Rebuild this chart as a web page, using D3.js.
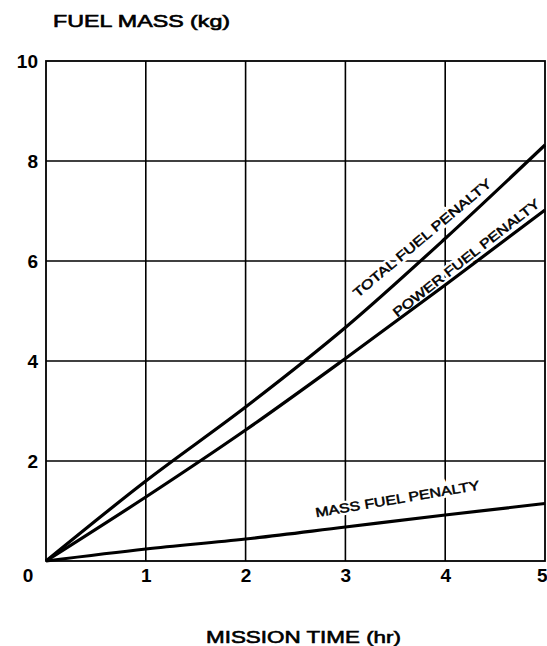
<!DOCTYPE html>
<html>
<head>
<meta charset="utf-8">
<script src="https://cdn.jsdelivr.net/npm/d3@7"></script>
<style>
html,body{margin:0;padding:0;background:#fff;}
svg{display:block;font-family:"Liberation Sans",Arial,Helvetica,sans-serif;}
</style>
</head>
<body>
<svg id="chart" width="547" height="646"></svg>
<script>
// ---- data ----
const missionTime = [0, 1, 2, 3, 4, 5];
const totalFuelPenalty = [0, 1.6, 3.08, 4.67, 6.45, 8.32];
const powerFuelPenalty = [0, 1.28, 2.62, 4.05, 5.52, 7.02];
const massFuelPenalty  = [0, 0.24, 0.44, 0.68, 0.92, 1.15];
const xTicks = [0, 1, 2, 3, 4, 5];
const yTicks = [0, 2, 4, 6, 8, 10];
const xTitle = "MISSION TIME (hr)";
const yTitle = "FUEL MASS (kg)";
const seriesNames = ["TOTAL FUEL PENALTY", "POWER FUEL PENALTY", "MASS FUEL PENALTY"];

const svg = d3.select("#chart");
const x = d3.scaleLinear().domain([0, 5]).range([46, 545]);
const y = d3.scaleLinear().domain([0, 10]).range([561, 61]);

// grid
const g = svg.append("g");
g.selectAll("line.vg").data(xTicks.slice(1, -1)).join("line")
  .attr("x1", d => x(d)).attr("x2", d => x(d))
  .attr("y1", y(0)).attr("y2", y(10))
  .attr("stroke", "#000").attr("stroke-width", 1.6);
g.selectAll("line.hg").data(yTicks.slice(1, -1)).join("line")
  .attr("y1", d => y(d)).attr("y2", d => y(d))
  .attr("x1", x(0)).attr("x2", x(5))
  .attr("stroke", "#000").attr("stroke-width", 1.6);
g.append("rect")
  .attr("x", x(0)).attr("y", y(10))
  .attr("width", x(5) - x(0)).attr("height", y(0) - y(10))
  .attr("fill", "none").attr("stroke", "#000").attr("stroke-width", 1.8);

// axes tick labels
const xAxis = d3.axisBottom(x).tickValues(xTicks.slice(1)).tickSize(0).tickPadding(8).tickFormat(d3.format("d"));
svg.append("g").attr("transform", `translate(0,${y(0)})`).call(xAxis)
  .call(a => a.select(".domain").remove())
  .selectAll("text").attr("font-size", 19).attr("font-weight", "bold")
  .attr("font-family", "Liberation Sans, Arial, sans-serif").attr("fill", "#000")
  .attr("text-anchor", d => d === 5 ? "end" : "middle")
  .attr("dx", d => d === 5 ? 2 : 0);
// "0" at corner
svg.append("text").attr("x", x(0) - 18).attr("y", y(0) + 21)
  .attr("text-anchor", "middle").attr("font-size", 19).attr("font-weight", "bold").text("0");

const yAxis = d3.axisLeft(y).tickValues(yTicks.slice(1)).tickSize(0).tickPadding(8).tickFormat(d3.format("d"));
svg.append("g").attr("transform", `translate(${x(0)},0)`).call(yAxis)
  .call(a => a.select(".domain").remove())
  .selectAll("text").attr("font-size", 19).attr("font-weight", "bold")
  .attr("font-family", "Liberation Sans, Arial, sans-serif").attr("fill", "#000");

// titles
svg.append("text").attr("x", 53).attr("y", 27)
  .attr("font-size", 16).attr("stroke", "#000").attr("stroke-width", 0.6)
  .attr("textLength", 177).attr("lengthAdjust", "spacingAndGlyphs").text(yTitle);
svg.append("text").attr("x", 206).attr("y", 643)
  .attr("font-size", 17).attr("stroke", "#000").attr("stroke-width", 0.6)
  .attr("textLength", 195).attr("lengthAdjust", "spacingAndGlyphs").text(xTitle);

// curve labels (with white halo that breaks the grid lines behind them)
const labels = [
  {t: seriesNames[0], cx: 3.77, cy: 6.46, a: -40, len: 176},
  {t: seriesNames[1], cx: 4.21, cy: 6.06, a: -38, len: 182},
  {t: seriesNames[2], cx: 3.52, cy: 1.24, a: -9.6, len: 166}
];
labels.forEach(l => {
  const tr = `translate(${x(l.cx)},${y(l.cy)}) rotate(${l.a})`;
  svg.append("text")
    .attr("transform", tr)
    .attr("text-anchor", "middle").attr("dominant-baseline", "central")
    .attr("font-size", 13).attr("fill", "#fff").attr("stroke", "#fff").attr("stroke-width", 5)
    .attr("textLength", l.len).attr("lengthAdjust", "spacingAndGlyphs")
    .text(l.t);
});

// lines
const line = d3.line().x((d, i) => x(missionTime[i])).y(d => y(d)).curve(d3.curveMonotoneX);
[totalFuelPenalty, powerFuelPenalty, massFuelPenalty].forEach(s => {
  svg.append("path").attr("d", line(s)).attr("fill", "none")
    .attr("stroke", "#000").attr("stroke-width", 3.2).attr("stroke-linejoin", "round");
});

labels.forEach(l => {
  const tr = `translate(${x(l.cx)},${y(l.cy)}) rotate(${l.a})`;
  svg.append("text")
    .attr("transform", tr)
    .attr("text-anchor", "middle").attr("dominant-baseline", "central")
    .attr("font-size", 13).attr("fill", "#000").attr("stroke", "#000").attr("stroke-width", 0.5)
    .attr("textLength", l.len).attr("lengthAdjust", "spacingAndGlyphs")
    .text(l.t);
});
</script>
</body>
</html>
